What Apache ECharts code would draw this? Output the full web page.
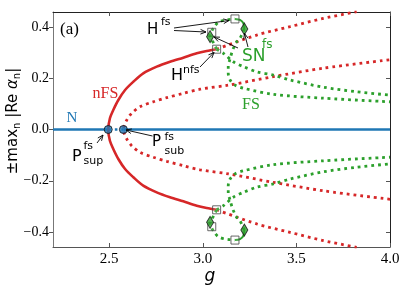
<!DOCTYPE html>
<html><head><meta charset="utf-8">
<script src="https://cdn.jsdelivr.net/npm/echarts@6/dist/echarts.min.js"></script>
<style>html,body{margin:0;padding:0;background:#fff}#c{width:407px;height:291px}</style>
</head><body><div id="c"></div>
<script>
// ---------- data (upper half; the plot shows ± max|Re α|, lower half mirrored) ----------
const xTicks = [2.5, 3.0, 3.5, 4.0];
const yTicks = [-0.4, -0.2, 0.0, 0.2, 0.4];
const nStableLeft = [[2.2, 0], [2.495, 0]];
const nUnstable = [[2.495, 0], [2.576, 0]];
const nStableRight = [[2.576, 0], [4.0, 0]];
const nfsStable = [[2.495,0],[2.504,0.044],[2.522,0.076],[2.549,0.115],[2.585,0.154],[2.629,0.186],[2.682,0.219],[2.754,0.245],[2.825,0.264],[2.896,0.280],[2.968,0.297],[3.021,0.306],[3.074,0.313]];
const nfsUnstableLow = [[2.576,0],[2.594,0.037],[2.620,0.063],[2.665,0.089],[2.736,0.108],[2.807,0.124],[2.896,0.141],[2.985,0.157],[3.137,0.173],[3.377,0.206],[3.644,0.239],[4.0,0.272]];
const nfsUnstableHigh = [[3.074,0.313],[3.288,0.368],[3.466,0.401],[3.644,0.433],[3.822,0.459]];
const fsUnstableA = [[3.074,0.313],[3.062,0.332],[3.048,0.349],[3.039,0.366],[3.048,0.384],[3.062,0.401],[3.083,0.418],[3.119,0.427],[3.172,0.431]];
const fsStableArc = [[3.172,0.431],[3.199,0.427],[3.217,0.414],[3.222,0.392]];
const fsUnstableB = [[3.222,0.392],[3.199,0.356],[3.181,0.342],[3.160,0.310],[3.146,0.276],[3.136,0.245],[3.136,0.219],[3.146,0.193],[3.172,0.173],[3.217,0.161],[3.377,0.137],[3.644,0.122],[4.0,0.108]];
const fsUnstableC = [[3.074,0.313],[3.110,0.297],[3.163,0.264],[3.217,0.245],[3.288,0.225],[3.377,0.212],[3.466,0.193],[3.644,0.165],[3.822,0.147],[4.0,0.134]];
const pitchforkPts = [[2.495, 0], [2.576, 0]];
const hopfSquares = [[3.074,0.313],[3.172,0.431],[3.048,0.379]];
const foldDiamonds = [[3.222,0.392],[3.039,0.362]];

// ---------- chart ----------
const BLUE = '#1f77b4', RED = '#d62728', GREEN = '#2ca02c';
const neg = d => d.map(p => [p[0], -p[1]]);
function line(data, color, width, dotted, smooth) {
  return {type: 'line', data, symbol: 'none', silent: true, animation: false, smooth: smooth ? 0.3 : false,
    lineStyle: {color, width, type: dotted ? [width, 4] : 'solid', cap: 'butt'}, z: 2};
}
function scatter(data, symbol, size, fill, border, z) {
  return {type: 'scatter', data, symbol, symbolSize: size, silent: true, animation: false,
    itemStyle: {color: fill, borderColor: border, borderWidth: 1}, z: z || 5};
}
const chart = echarts.init(document.getElementById('c'), null, {renderer: 'canvas'});
const fmtY = v => (v < -1e-9 ? '\u2212' : '') + Math.abs(v).toFixed(1);
const serif = 'Liberation Serif';
const series = [
  line(nStableLeft, BLUE, 2.6, false),
  line(nUnstable, BLUE, 2.6, true),
  line(nStableRight, BLUE, 2.6, false),
  line([...neg(nfsStable).reverse(), ...nfsStable.slice(1)], RED, 2.6, false, true),
  line([...neg(nfsUnstableLow).reverse(), ...nfsUnstableLow.slice(1)], RED, 2.8, true, true),
  line(nfsUnstableHigh, RED, 2.8, true, true),
  line(neg(nfsUnstableHigh), RED, 2.8, true, true),
  line(fsUnstableA, GREEN, 2.8, true, true),
  line(neg(fsUnstableA), GREEN, 2.8, true, true),
  line(fsStableArc, GREEN, 2, false, true),
  line(neg(fsStableArc), GREEN, 2, false, true),
  line(fsUnstableB, GREEN, 2.8, true, true),
  line(neg(fsUnstableB), GREEN, 2.8, true, true),
  line(fsUnstableC, GREEN, 2.8, true, true),
  line(neg(fsUnstableC), GREEN, 2.8, true, true),
  scatter(pitchforkPts, 'circle', 8, BLUE, '#111', 6),
  scatter([...hopfSquares, ...neg(hopfSquares)], 'rect', 8, 'rgba(255,255,255,0.15)', '#444', 5),
  scatter([...foldDiamonds, ...neg(foldDiamonds)], 'diamond', [7, 12], GREEN, '#111', 6)
];
const axisCommon = {type: 'value', splitLine: {show: false}};
chart.setOption({
  animation: false,
  backgroundColor: '#fff',
  grid: {left: 53, right: 17, top: 12, bottom: 44},
  xAxis: [
    Object.assign({}, axisCommon, {min: 2.2, max: 4.0, position: 'bottom',
      axisLine: {onZero: false, lineStyle: {color: '#555', width: 1}},
      axisTick: {inside: true, length: 4, customValues: xTicks, lineStyle: {color: '#555'}},
      axisLabel: {customValues: xTicks, margin: 5, formatter: v => v.toFixed(1), fontFamily: serif, fontSize: 15, color: '#000'}}),
    Object.assign({}, axisCommon, {min: 2.2, max: 4.0, position: 'top',
      axisLine: {onZero: false, lineStyle: {color: '#222', width: 1}},
      axisTick: {inside: true, length: 4, customValues: xTicks, lineStyle: {color: '#555'}},
      axisLabel: {show: false}})
  ],
  yAxis: [
    Object.assign({}, axisCommon, {min: -0.458, max: 0.458, position: 'left',
      axisLine: {onZero: false, lineStyle: {color: '#777', width: 1}},
      axisTick: {inside: false, length: 4, customValues: yTicks, lineStyle: {color: '#555'}},
      axisLabel: {customValues: yTicks, margin: 4, formatter: fmtY, fontFamily: serif, fontSize: 14, color: '#000'}}),
    Object.assign({}, axisCommon, {min: -0.458, max: 0.458, position: 'right',
      axisLine: {onZero: false, lineStyle: {color: '#222', width: 1}},
      axisTick: {inside: true, length: 4, customValues: yTicks, lineStyle: {color: '#555'}},
      axisLabel: {show: false}})
  ],
  series
});

// ---------- annotations ----------
function txt(x, y, text, size, color, family, extra) {
  return {type: 'text', x, y, silent: true, z: 20,
    style: Object.assign({text, fontSize: size, fill: color || '#000', fontFamily: family || 'DejaVu Sans', align: 'left', verticalAlign: 'middle'}, extra || {})};
}
function arrow(x1, y1, x2, y2) {
  const a = Math.atan2(y2 - y1, x2 - x1), L = 6, s = 0.4;
  return [
    {type: 'line', silent: true, z: 19, shape: {x1, y1, x2, y2}, style: {stroke: '#000', lineWidth: 0.9}},
    {type: 'polyline', silent: true, z: 19, shape: {points: [
      [x2 - L * Math.cos(a - s), y2 - L * Math.sin(a - s)], [x2, y2], [x2 - L * Math.cos(a + s), y2 - L * Math.sin(a + s)]]},
      style: {stroke: '#000', lineWidth: 0.9, fill: null}}
  ];
}
const g = [
  txt(60, 30, '(a)', 17, '#000', serif),
  txt(72, 118, 'N', 15, BLUE, serif, {align: 'center'}),
  txt(105.5, 94, 'nFS', 16, RED, serif, {align: 'center'}),
  txt(251, 105, 'FS', 16, GREEN, serif, {align: 'center'}),
  txt(147, 30, 'H', 15), txt(161, 22, 'fs', 11),
  txt(171, 76, 'H', 16), txt(183, 70.5, 'nfs', 11),
  txt(242, 56.5, 'SN', 17, GREEN), txt(262, 45, 'fs', 12, GREEN),
  txt(72, 156.5, 'P', 16), txt(83.5, 146, 'fs', 11), txt(83.5, 161.5, 'sup', 11),
  txt(152, 142.5, 'P', 15), txt(164.5, 137, 'fs', 11), txt(164.5, 151, 'sub', 11),
  txt(210, 277, 'g', 17, '#000', 'DejaVu Sans', {align: 'center', fontStyle: 'italic'}),
  {type: 'text', x: 13, y: 121, rotation: Math.PI / 2, silent: true, z: 20,
    style: {text: '{a|±max}{s|n}{a| |Re }{i|α}{s|n}{a||}', align: 'center', verticalAlign: 'middle',
      rich: {
        a: {fontSize: 15, fontFamily: 'DejaVu Sans', lineHeight: 18, verticalAlign: 'middle', fill: '#000'},
        i: {fontSize: 15, fontFamily: 'DejaVu Sans', fontStyle: 'italic', lineHeight: 18, verticalAlign: 'middle', fill: '#000'},
        s: {fontSize: 10, fontFamily: 'DejaVu Sans', lineHeight: 10, verticalAlign: 'bottom', fill: '#000'}
      }}},
  ...arrow(174, 28, 229, 20.5),
  ...arrow(174, 30.5, 206, 32),
  ...arrow(200, 67, 214, 52.5),
  ...arrow(238, 48, 214, 37),
  ...arrow(248, 47, 244.5, 33.5),
  ...arrow(97, 143, 103, 135),
  ...arrow(152.5, 136, 126, 130)
];
chart.setOption({graphic: {elements: g}});
</script>
</body></html>
